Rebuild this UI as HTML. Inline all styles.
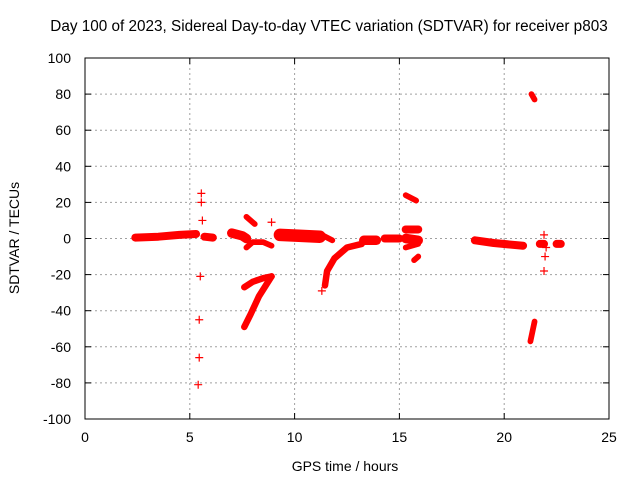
<!DOCTYPE html>
<html><head><meta charset="utf-8"><style>
body{margin:0;background:#fff;font-family:"Liberation Sans",sans-serif}
svg{display:block}
</style></head><body>
<svg id="chart" width="640" height="480" font-family="Liberation Sans, sans-serif" font-size="14">
<text x="329" y="31" text-anchor="middle" font-size="15.3">Day 100 of 2023, Sidereal Day-to-day VTEC variation (SDTVAR) for receiver p803</text>
<text x="345" y="471" text-anchor="middle">GPS time / hours</text>
<text transform="translate(19,238) rotate(-90)" text-anchor="middle">SDTVAR / TECUs</text>
<g id="grid"></g>
<g id="ticks"></g>
<g id="marks"></g>
<rect x="85" y="58" width="524" height="361" fill="none" stroke="#000"/>
</svg>
<script>
const xTicks=[0,5,10,15,20,25];
const yTicks=[-100,-80,-60,-40,-20,0,20,40,60,80,100];
// dense tracks: [hour, value] key points, with band thickness in TECU
const tracks=[
 {w:3,p:[[2.4,0.5],[3.5,1],[4.5,2],[5.3,2.5]]},
 {w:3,p:[[5.7,1],[6.1,0.5]]},
 {w:4,p:[[7.0,3],[7.5,1.5],[7.7,0]]},
 {w:1.5,p:[[7.7,12],[8.1,8]]},
 {w:1.5,p:[[7.7,-5],[8.0,-2],[8.5,-2],[8.9,-4]]},
 {w:2,p:[[7.6,-27],[8.0,-24],[8.5,-22],[8.9,-21]]},
 {w:2,p:[[8.9,-21],[8.3,-32],[7.9,-42],[7.6,-49]]},
 {w:6,p:[[9.3,2],[10.2,1.5],[11.2,1]]},
 {w:1.5,p:[[11.3,2],[11.8,-1]]},
 {w:2,p:[[11.45,-26],[11.55,-18],[11.9,-11],[12.5,-5],[13.2,-3]]},
 {w:4,p:[[13.3,-1],[13.9,-1]]},
 {w:3,p:[[14.3,0],[15.0,0]]},
 {w:1.5,p:[[15.3,24],[15.8,21]]},
 {w:3,p:[[15.3,5],[15.9,5]]},
 {w:4,p:[[15.3,0],[15.9,-1]]},
 {w:1.5,p:[[15.3,-5],[15.9,-3]]},
 {w:1.5,p:[[15.7,-12],[15.9,-10]]},
 {w:3,p:[[18.6,-1],[19.5,-2.5],[20.9,-4]]},
 {w:3,p:[[21.7,-3],[21.9,-3]]},
 {w:3,p:[[22.5,-3],[22.7,-3]]},
 {w:1.5,p:[[21.3,80],[21.45,77]]},
 {w:1.5,p:[[21.25,-57],[21.45,-46]]}
];
const ptHours=[5.55,5.55,5.6,5.5,5.45,5.45,5.4,8.9,11.3,21.9,21.95,21.9,22];
const ptValues=[25,20,10,-21,-45,-66,-81,9,-29,2,-10,-18,-5];
const NS="http://www.w3.org/2000/svg";
const X=h=>85+h*524/25, Y=v=>238.5-v*361/200;
function mk(t,a,parent){const e=document.createElementNS(NS,t);for(const k in a)e.setAttribute(k,a[k]);parent.appendChild(e);return e;}
const grid=document.getElementById('grid'),ticks=document.getElementById('ticks'),marks=document.getElementById('marks');
xTicks.forEach(t=>{
 if(t>0&&t<25){const l=mk('line',{x1:X(t),x2:X(t),y1:58,y2:419,stroke:'#a0a0a0','stroke-dasharray':'2,3'},grid);
 
 }
 mk('line',{x1:X(t),x2:X(t),y1:419,y2:413,stroke:'#000'},ticks);mk('line',{x1:X(t),x2:X(t),y1:58,y2:64,stroke:'#000'},ticks);
 const tx=mk('text',{x:X(t),y:442,'text-anchor':'middle'},ticks);tx.textContent=t;
 
 
});
yTicks.forEach(t=>{
 if(t>-100&&t<100){const l=mk('line',{x1:85,x2:609,y1:Y(t),y2:Y(t),stroke:'#a0a0a0','stroke-dasharray':'2,3'},grid);
 
 }
 mk('line',{x1:85,x2:91,y1:Y(t),y2:Y(t),stroke:'#000'},ticks);mk('line',{x1:609,x2:603,y1:Y(t),y2:Y(t),stroke:'#000'},ticks);
 const tx=mk('text',{x:71,y:Y(t)+5,'text-anchor':'end'},ticks);tx.textContent=t;
 
 
});
tracks.forEach(tr=>{
 const pl=mk('polyline',{points:tr.p.map(q=>X(q[0])+','+Y(q[1])).join(' '),fill:'none',stroke:'#ff0000','stroke-width':tr.w*1.5+3.5,'stroke-linejoin':'round','stroke-linecap':'round'},marks);
 
 
});
ptHours.forEach((h,i)=>{
 const x=X(h),y=Y(ptValues[i]);
 const p=mk('path',{d:`M${x-4},${y}H${x+4}M${x},${y-4}V${y+4}`,stroke:'#ff0000','stroke-width':1.2},marks);
 
 
});
</script>
</body></html>
